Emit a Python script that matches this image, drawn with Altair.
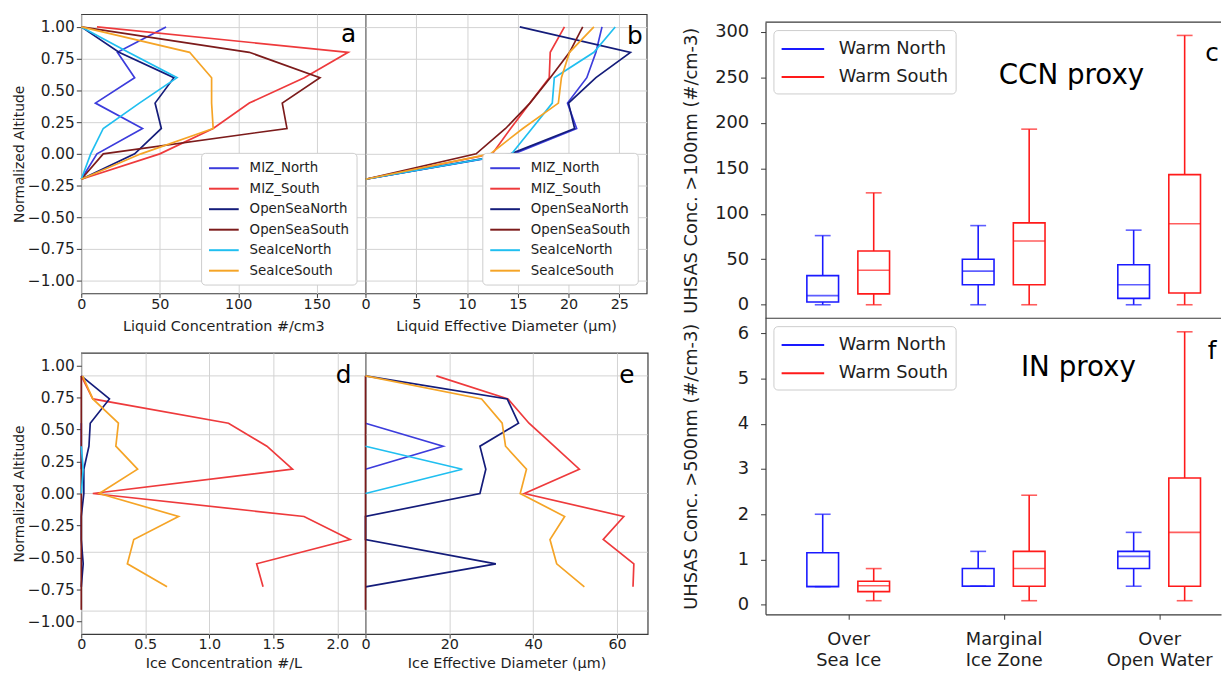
import altair as alt
import pandas as pd

FONT = "DejaVu Sans"
INK = "#1e1e1e"
GRID = "#d2d2d2"
FRAME = "#3a3a3a"

# ---------------- profile panels (a, b, d, e) ----------------
series_names = ["MIZ_North", "MIZ_South", "OpenSeaNorth", "OpenSeaSouth", "SeaIceNorth", "SeaIceSouth"]
series_colors = ["#3c3cdc", "#ee3a3c", "#141c7a", "#7c1b1b", "#20bff0", "#f5a426"]

y_ticks = [-1.0, -0.75, -0.5, -0.25, 0.0, 0.25, 0.5, 0.75, 1.0]

liq_levels = [1.0, 0.8, 0.6, 0.4, 0.2, 0.0, -0.2]
liq_conc_miz_north = [54, 23, 34, 9, 39, 10, 0]
liq_conc_miz_south = [10, 170, 142, 107, 84, 50, 0]
liq_conc_opensea_north = [0, 24, 59, 47, 51, 34, 0]
liq_conc_opensea_south = [0, 107, 152, 128, 131, 14, 0]
liq_conc_seaice_north = [0, 30, 61, 37, 14, 6, 0]
liq_conc_seaice_south = [0, 69, 83, 83, 84, 38, 0]

liq_diam_miz_north = [23.3, 22.7, 21.8, 19.9, 20.8, 14.6, 0]
liq_diam_miz_south = [19.6, 18.2, 18.1, 16.2, 14.3, 12.5, 0]
liq_diam_opensea_north = [15.2, 26.1, 22.7, 20.0, 20.6, 14.3, 0]
liq_diam_opensea_south = [21.4, 20.1, 18.2, 16.2, 13.8, 10.9, 0]
liq_diam_seaice_north = [24.6, 22.5, 18.6, 18.4, 16.4, 14.4, 0]
liq_diam_seaice_south = [22.5, 20.1, 19.3, 19.0, 15.5, 12.3, 0]

N = None
ice_levels = [0.92, 0.74, 0.55, 0.37, 0.19, 0.0, -0.18, -0.36, -0.55, -0.73, -0.91]
ice_grid_levels = [0.92, 0.46, 0.0, -0.46, -0.92]

ice_conc_miz_north = [N, N, 0, 0, 0, N, N, N, N, N, N]
ice_conc_miz_south = [0, 0.09, 1.15, 1.45, 1.65, 0.09, 1.74, 2.10, 1.37, 1.42, N]
ice_conc_opensea_north = [0, 0.22, 0.07, 0.06, 0.02, 0.02, 0, 0, 0.015, 0, N]
ice_conc_opensea_south = [0, 0, 0, 0, 0, 0, 0, 0, 0, 0, 0]
ice_conc_seaice_north = [N, N, N, 0, 0.015, 0, N, N, N, N, N]
ice_conc_seaice_south = [0.01, 0.09, 0.29, 0.27, 0.44, 0.14, 0.76, 0.41, 0.36, 0.67, N]

ice_diam_miz_north = [N, N, 0, 18.5, 0, N, N, N, N, N, N]
ice_diam_miz_south = [16.9, 34.0, 39.0, 45.0, 51.0, 37.9, 61.6, 56.7, 64.0, 63.8, N]
ice_diam_opensea_north = [0, 33.8, 36.5, 27.3, 28.7, 27.3, 0, 0, 31.1, 0, N]
ice_diam_opensea_south = [0, 0, 0, 0, 0, 0, 0, 0, 0, 0, 0]
ice_diam_seaice_north = [N, N, N, 0, 23.1, 0, N, N, N, N, N]
ice_diam_seaice_south = [0, 27.7, 32.6, 33.4, 38.4, 36.9, 47.5, 44.0, 45.6, 52.2, N]

# ---------------- box panels (c, f) ----------------
box_categories = ["Over Sea Ice", "Marginal Ice Zone", "Over Open Water"]
box_groups = ["Warm North", "Warm South"]
box_colors = ["#1a1aff", "#ff1a1a"]
group_shift = [-0.164, 0.164]

ccn_north_min = [0, 0, 0]
ccn_north_q1 = [3, 22, 7]
ccn_north_med = [10, 37, 22]
ccn_north_q3 = [32, 50, 44]
ccn_north_max = [76, 87, 82]
ccn_south_min = [0, 0, 0]
ccn_south_q1 = [12, 22, 13]
ccn_south_med = [38, 70, 89]
ccn_south_q3 = [59, 90, 143]
ccn_south_max = [123, 193, 296]

in_north_min = [0.40, 0.41, 0.41]
in_north_q1 = [0.40, 0.41, 0.80]
in_north_med = [0.41, 0.41, 1.07]
in_north_q3 = [1.15, 0.80, 1.18]
in_north_max = [2.00, 1.18, 1.60]
in_south_min = [0.09, 0.09, 0.09]
in_south_q1 = [0.29, 0.41, 0.41]
in_south_med = [0.42, 0.80, 1.60]
in_south_q3 = [0.52, 1.18, 2.80]
in_south_max = [0.80, 2.42, 6.03]

# legend glyph: a horizontal line drawn from the left edge of the symbol cell
LINE_GLYPH = "M-1,0H3"

legend_left = alt.Legend(
    orient="bottom-right", title=None, symbolType=LINE_GLYPH, symbolSize=225,
    symbolStrokeWidth=2, labelFontSize=13.5, labelColor=INK, labelOffset=25,
    rowPadding=5.7, padding=7, offset=9, fillColor="white", strokeColor="#cccccc",
    cornerRadius=4,
)

legend_right = alt.Legend(
    orient="top-left", title=None, symbolType=LINE_GLYPH, symbolSize=462,
    symbolStrokeWidth=2, labelFontSize=18, labelColor=INK, labelOffset=35,
    rowPadding=7.5, padding=7, offset=8, fillColor="white", strokeColor="#cccccc",
    cornerRadius=4,
)

minus_fmt = "replace(format(datum.value, '.2f'), '-', '\u2212')"


def make_profile(levels, series_values, x_domain, x_ticks, x_label_expr, x_title,
                 letter, letter_xy, width, height, show_y, legend, grid_levels=None,
                 title_pad=7):
    rows = []
    for name, vals in zip(series_names, series_values):
        for i, (lv, v) in enumerate(zip(levels, vals)):
            if v is not None:
                rows.append({"series": name, "alt": lv, "value": v, "idx": i})
    df = pd.DataFrame(rows)
    yscale = alt.Scale(domain=[-1.1, 1.1], nice=False, zero=False)
    xscale = alt.Scale(domain=x_domain, nice=False, zero=False)
    ykw = dict(values=y_ticks, labelExpr=minus_fmt, domain=False, grid=grid_levels is None,
               labelFontSize=15.5, tickSize=5, labelPadding=2)
    if show_y:
        ykw.update(title="Normalized Altitude", titleFontSize=14, titlePadding=1)
    else:
        ykw.update(title=None, labels=False, ticks=False, minExtent=0)
    y_axis = alt.Axis(**ykw)
    x_axis = alt.Axis(values=x_ticks, labelExpr=x_label_expr, title=x_title, domain=False,
                      grid=True, labelFlush=False, labelFontSize=14.5, titleFontSize=14.5,
                      tickSize=4, labelPadding=0, titlePadding=title_pad)
    layers = []
    if grid_levels is not None:
        layers.append(
            alt.Chart(pd.DataFrame({"g": grid_levels}))
            .mark_rule(color=GRID, strokeWidth=1)
            .encode(y=alt.Y("g:Q", scale=yscale, axis=y_axis))
        )
    if legend is None:
        color = alt.Color("series:N", scale=alt.Scale(domain=series_names, range=series_colors), legend=None)
    else:
        color = alt.Color("series:N", scale=alt.Scale(domain=series_names, range=series_colors), legend=legend)
    lines = alt.Chart(df).mark_line(strokeWidth=1.7).encode(
        x=alt.X("value:Q", scale=xscale, axis=x_axis),
        y=alt.Y("alt:Q", scale=yscale, axis=y_axis),
        color=color,
        order=alt.Order("idx:Q"),
    )
    layers.append(lines)
    layers.append(
        alt.Chart(pd.DataFrame({"t": [letter]}))
        .mark_text(fontSize=25, font=FONT, color="#000000")
        .encode(text="t:N", x=alt.value(letter_xy[0]), y=alt.value(letter_xy[1]))
    )
    return alt.layer(*layers).properties(width=width, height=height)


BOX_W = 460
BOX_XMAX = -0.5 + BOX_W / 160.5


def make_box(north, south, y_domain, y_ticks_box, y_title, proxy, proxy_xy, letter, letter_xy,
             show_x, width, height):
    rows = []
    for g, (gname, stats) in enumerate(zip(box_groups, [north, south])):
        lo, q1, med, q3, hi = stats
        for i, cat in enumerate(box_categories):
            rows.append({"group": gname, "cat": cat, "pos": i + group_shift[g],
                         "lo": lo[i], "q1": q1[i], "med": med[i], "q3": q3[i], "hi": hi[i]})
    df = pd.DataFrame(rows)
    xscale = alt.Scale(domain=[-0.5, BOX_XMAX], nice=False, zero=False)
    yscale = alt.Scale(domain=y_domain, nice=False, zero=False)
    if show_x:
        label_lists = []
        for cat in box_categories:
            first, rest = cat.split(" ", 1)
            label_lists.append("['%s', '%s']" % (first, rest))
        expr = "[" + ", ".join(label_lists) + "][datum.value]"
        x_axis = alt.Axis(values=[0, 1, 2], labelExpr=expr, title=None, grid=False, domain=True,
                          domainWidth=1.2, labelFontSize=18, labelLineHeight=22, tickSize=5,
                          labelPadding=11, labelFlush=False)
        xenc = alt.X("pos:Q", scale=xscale, axis=x_axis)
    else:
        xenc = alt.X("pos:Q", scale=xscale, axis=None)
    y_axis = alt.Axis(values=y_ticks_box, title=y_title, grid=False, domain=True, domainWidth=1.2,
                      labelFontSize=18, titleFontSize=18, tickSize=5, labelPadding=12,
                      titlePadding=14, minExtent=52)
    color = alt.Color("group:N", scale=alt.Scale(domain=box_groups, range=box_colors), legend=legend_right)
    base = alt.Chart(df)
    layers = [
        base.mark_rule(strokeWidth=1.6).encode(x=xenc, y=alt.Y("lo:Q", scale=yscale, axis=y_axis), y2="q1:Q", color=color),
        base.mark_rule(strokeWidth=1.6).encode(x=xenc, y=alt.Y("q3:Q", scale=yscale, axis=y_axis), y2="hi:Q", color=color),
        base.mark_bar(filled=False, size=32, strokeWidth=1.6).encode(x=xenc, y=alt.Y("q1:Q", scale=yscale, axis=y_axis), y2="q3:Q", color=color),
        base.mark_tick(orient="horizontal", size=32, thickness=1.6).encode(x=xenc, y=alt.Y("med:Q", scale=yscale, axis=y_axis), color=color),
        base.mark_tick(orient="horizontal", size=16, thickness=1.6).encode(x=xenc, y=alt.Y("hi:Q", scale=yscale, axis=y_axis), color=color),
        base.mark_tick(orient="horizontal", size=16, thickness=1.6).encode(x=xenc, y=alt.Y("lo:Q", scale=yscale, axis=y_axis), color=color),
        alt.Chart(pd.DataFrame({"t": [proxy]})).mark_text(fontSize=28, font=FONT, color="#000000")
        .encode(text="t:N", x=alt.value(proxy_xy[0]), y=alt.value(proxy_xy[1])),
        alt.Chart(pd.DataFrame({"t": [letter]})).mark_text(fontSize=25, font=FONT, color="#000000")
        .encode(text="t:N", x=alt.value(letter_xy[0]), y=alt.value(letter_xy[1])),
    ]
    frame = alt.Chart(pd.DataFrame({"z": [0]}))
    if not show_x:
        # frame edges of the upper panel (top and the shared middle line)
        layers.append(frame.mark_rule(color=FRAME, strokeWidth=1.2).encode(
            x=alt.value(0), x2=alt.value(width), y=alt.value(0)))
        layers.append(frame.mark_rule(color=FRAME, strokeWidth=1.2).encode(
            x=alt.value(0), x2=alt.value(width), y=alt.value(height)))
    return alt.layer(*layers).properties(
        width=width, height=height, view=alt.ViewBackground(stroke="transparent"))


int_expr = "format(datum.value, 'd')"
one_dec_expr = "datum.value == 0 ? '0' : format(datum.value, '.1f')"

a = make_profile(liq_levels,
                 [liq_conc_miz_north, liq_conc_miz_south, liq_conc_opensea_north,
                  liq_conc_opensea_south, liq_conc_seaice_north, liq_conc_seaice_south],
                 [0, 181], [0, 50, 100, 150], int_expr, "Liquid Concentration #/cm3",
                 "a", (270, 20), 287, 282, True, legend_left, title_pad=9)
b = make_profile(liq_levels,
                 [liq_diam_miz_north, liq_diam_miz_south, liq_diam_opensea_north,
                  liq_diam_opensea_south, liq_diam_seaice_north, liq_diam_seaice_south],
                 [0, 27.7], [0, 5, 10, 15, 20, 25], int_expr, "Liquid Effective Diameter (µm)",
                 "b", (272, 22), 284, 282, False, legend_left, title_pad=9)
d = make_profile(ice_levels,
                 [ice_conc_miz_north, ice_conc_miz_south, ice_conc_opensea_north,
                  ice_conc_opensea_south, ice_conc_seaice_north, ice_conc_seaice_south],
                 [0, 2.22], [0, 0.5, 1.0, 1.5, 2.0], one_dec_expr, "Ice Concentration #/L",
                 "d", (265, 22), 287, 284, True, None, ice_grid_levels, title_pad=5)
e = make_profile(ice_levels,
                 [ice_diam_miz_north, ice_diam_miz_south, ice_diam_opensea_north,
                  ice_diam_opensea_south, ice_diam_seaice_north, ice_diam_seaice_south],
                 [0, 67.3], [0, 20, 40, 60], int_expr, "Ice Effective Diameter (µm)",
                 "e", (264, 22), 285, 284, False, None, ice_grid_levels, title_pad=5)

c = make_box([ccn_north_min, ccn_north_q1, ccn_north_med, ccn_north_q3, ccn_north_max],
             [ccn_south_min, ccn_south_q1, ccn_south_med, ccn_south_q3, ccn_south_max],
             [-14.8, 310.6], [0, 50, 100, 150, 200, 250, 300], "UHSAS Conc. >100nm (#/cm-3)",
             "CCN proxy", (309, 54), "c", (451, 31), False, BOX_W, 299)
f = make_box([in_north_min, in_north_q1, in_north_med, in_north_q3, in_north_max],
             [in_south_min, in_south_q1, in_south_med, in_south_q3, in_south_max],
             [-0.21, 6.33], [0, 1, 2, 3, 4, 5, 6], "UHSAS Conc. >500nm (#/cm-3)",
             "IN proxy", (316, 50), "f", (451, 33), True, BOX_W, 299)

# invisible strip that lowers the right-hand column relative to the left one
spacer = (
    alt.Chart(pd.DataFrame({"z": [0]}))
    .mark_rule(opacity=0, strokeWidth=1)
    .encode(x=alt.value(10), x2=alt.value(20), y=alt.value(4))
    .properties(width=BOX_W, height=8, view=alt.ViewBackground(stroke="transparent"))
)


def indep(ch):
    return ch.resolve_scale(color="independent", x="independent", y="independent").resolve_legend(color="independent")


top = indep(alt.hconcat(a, b, spacing=0, bounds="flush"))
bottom = indep(alt.hconcat(d, e, spacing=0, bounds="flush"))
left = indep(alt.vconcat(top, bottom, spacing=18))
right = indep(alt.vconcat(spacer, c, f, spacing=0, bounds="flush"))

chart = (
    indep(alt.hconcat(left, right, spacing=32))
    .properties(padding={"left": 3, "top": 2, "right": 0, "bottom": 0})
    .configure_view(stroke=FRAME, strokeWidth=1.2)
    .configure_axis(labelFont=FONT, titleFont=FONT, labelColor=INK, titleColor=INK,
                    titleFontWeight="normal", tickColor=FRAME, domainColor=FRAME,
                    gridColor=GRID, gridWidth=1)
    .configure_legend(labelFont=FONT)
)

chart.save("out.html", embed_options={"renderer": "svg", "actions": False})
